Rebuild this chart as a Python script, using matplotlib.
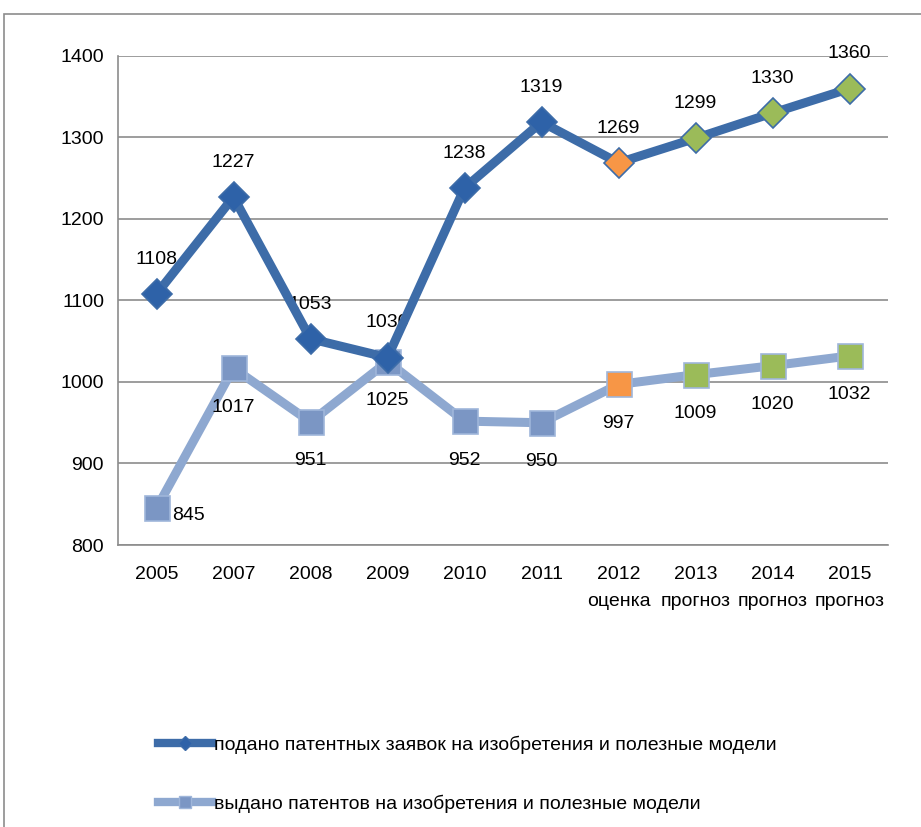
import matplotlib.pyplot as plt
from matplotlib.patches import Rectangle
from matplotlib.lines import Line2D

plt.rcParams['font.family'] = ['Liberation Sans Narrow', 'Liberation Sans', 'DejaVu Sans']

years = ['2005', '2007', '2008', '2009', '2010', '2011', '2012', '2013', '2014', '2015']
notes = ['', '', '', '', '', '', 'оценка', 'прогноз', 'прогноз', 'прогноз']
filed = [1108, 1227, 1053, 1030, 1238, 1319, 1269, 1299, 1330, 1360]
granted = [845, 1017, 951, 1025, 952, 950, 997, 1009, 1020, 1032]
filed_name = 'подано патентных заявок на изобретения и полезные модели'
granted_name = 'выдано патентов на изобретения и полезные модели'

# colours of the markers: fact / estimate / forecast
filed_marker = ['#2E62A8'] * 6 + ['#F79646'] + ['#9BBB59'] * 3
granted_marker = ['#7B96C4'] * 6 + ['#F79646'] + ['#9BBB59'] * 3
filed_line = '#3D6CA8'
granted_line = '#8EA8D0'

fig = plt.figure(figsize=(9.21, 8.27), dpi=100)
fig.patches.append(Rectangle((4 / 921, -0.1), 1.2, 1 - 14 / 827 + 0.1, transform=fig.transFigure,
                             fill=False, edgecolor='#8c8c8c', linewidth=1.2))

ax = fig.add_axes([118 / 921, 1 - 545 / 827, (888 - 118) / 921, (545 - 56) / 827])
x = list(range(len(years)))

ax.plot(x, granted, color=granted_line, lw=6.5, zorder=2, solid_joinstyle='round')
for xi, v, c in zip(x, granted, granted_marker):
    ax.plot(xi, v, marker='s', ms=18, mfc=c, mec='#9fb6da', mew=1.2, zorder=3)
ax.plot(x, filed, color=filed_line, lw=6.5, zorder=4, solid_joinstyle='round')
for xi, v, c in zip(x, filed, filed_marker):
    ax.plot(xi, v, marker='D', ms=15, mfc=c, mec='#3D6CA8', mew=1.2, zorder=5)

lab_font = ['Liberation Sans', 'DejaVu Sans']
for xi, v in zip(x, filed):
    ax.annotate(str(v), (xi, v), xytext=(0, 25), textcoords='offset points',
                ha='center', va='center', fontsize=14, family=lab_font)
for xi, v in zip(x, granted):
    if xi == 0:
        ax.annotate(str(v), (xi, v), xytext=(23, -5), textcoords='offset points',
                    ha='center', va='center', fontsize=14, family=lab_font)
    else:
        ax.annotate(str(v), (xi, v), xytext=(0, -28), textcoords='offset points',
                    ha='center', va='center', fontsize=14, family=lab_font)

ax.set_xlim(-0.5, len(years) - 0.5)
ax.set_ylim(800, 1400)
ax.set_yticks(range(800, 1401, 100))
ax.set_xticks(x)
ax.set_xticklabels([y + ('\n' + n if n else '') for y, n in zip(years, notes)],
                   linespacing=1.75, va='top')
ax.tick_params(axis='both', length=0, labelsize=14, colors='black')
ax.tick_params(axis='x', pad=15)
ax.tick_params(axis='y', pad=10)
ax.grid(axis='y', color='#8c8c8c', lw=1.2)
ax.set_axisbelow(True)
for s in ['top', 'right']:
    ax.spines[s].set_visible(False)
for s in ['left', 'bottom']:
    ax.spines[s].set_color('#8c8c8c')
    ax.spines[s].set_linewidth(1.2)

handles = [Line2D([], [], color=filed_line, lw=6, marker='D', ms=7, mfc='#2E62A8', mec='#3D6CA8'),
           Line2D([], [], color=granted_line, lw=6, marker='s', ms=9, mfc='#7B96C4', mec='#9fb6da')]
fig.legend(handles, [filed_name, granted_name], loc='upper left',
           bbox_to_anchor=(148 / 921, 1 - 726 / 827), frameon=False, fontsize=14,
           handlelength=2.8, handletextpad=0.1, labelspacing=2.1, borderpad=0)

fig.savefig('out.png', dpi=100)
